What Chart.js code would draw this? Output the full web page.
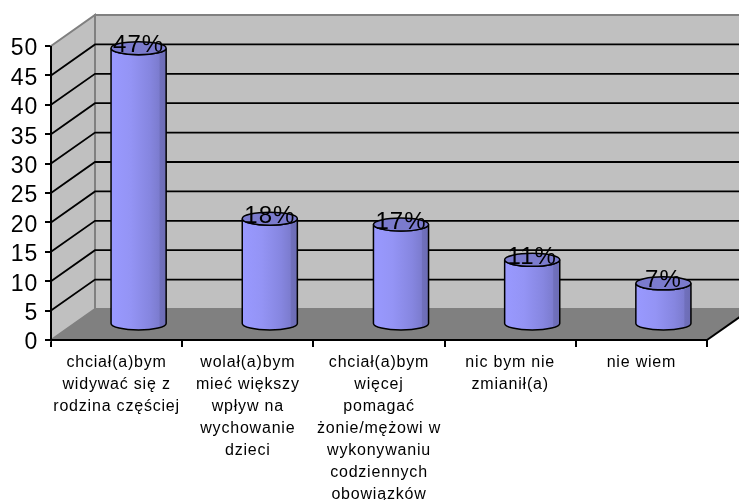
<!DOCTYPE html>
<html>
<head>
<meta charset="utf-8">
<style>
  html, body { margin: 0; padding: 0; background: #fff; }
  #wrap { width: 739px; height: 500px; }
</style>
<script src="https://cdn.jsdelivr.net/npm/chart.js@4"></script>
</head>
<body>
<div id="wrap"><canvas id="chart"></canvas></div>
<script>
const categories = [
    ['chciał(a)bym', 'widywać się z', 'rodzina częściej'],
    ['wolał(a)bym', 'mieć większy', 'wpływ na', 'wychowanie', 'dzieci'],
    ['chciał(a)bym', 'więcej', 'pomagać', 'żonie/mężowi w', 'wykonywaniu', 'codziennych', 'obowiązków'],
    ['nic bym nie', 'zmianił(a)'],
    ['nie wiem']
];
const values = [47, 18, 17, 11, 7];
const yMax = 50;
const yStep = 5;

// how far the back wall sits from the front of the chart
const depthX = 44;
const depthY = 31;

// walls and floor go behind the scales, built from the scale pixels
const wallsPlugin = {
    id: 'walls',
    beforeDraw(chart) {
        // the original text is stretched sideways, spacing gets close to that
        chart.ctx.letterSpacing = '0.8px';
    },
    beforeDatasetsDraw(chart) {
        const ctx = chart.ctx;
        const x = chart.scales.x;
        const y = chart.scales.y;
        const left = x.left, right = x.right;
        const top = y.getPixelForValue(yMax), bottom = y.getPixelForValue(0);

        ctx.save();
        ctx.lineJoin = 'miter';
        // back wall
        ctx.fillStyle = '#c0c0c0';
        ctx.strokeStyle = '#808080';
        ctx.lineWidth = 2;
        ctx.beginPath();
        ctx.rect(left + depthX, top - depthY, right - left, bottom - top);
        ctx.fill();
        ctx.stroke();
        // side wall
        ctx.beginPath();
        ctx.moveTo(left, top);
        ctx.lineTo(left + depthX, top - depthY);
        ctx.lineTo(left + depthX, bottom - depthY);
        ctx.lineTo(left, bottom);
        ctx.closePath();
        ctx.fill();
        ctx.stroke();
        // floor
        ctx.fillStyle = '#808080';
        ctx.beginPath();
        ctx.moveTo(left, bottom);
        ctx.lineTo(left + depthX, bottom - depthY);
        ctx.lineTo(right + depthX, bottom - depthY);
        ctx.lineTo(right, bottom);
        ctx.closePath();
        ctx.fill();
        // grid lines
        ctx.strokeStyle = '#000';
        ctx.lineWidth = 1.8;
        for (let v = yStep; v < yMax; v += yStep) {
            const py = y.getPixelForValue(v);
            ctx.beginPath();
            ctx.moveTo(left, py);
            ctx.lineTo(left + depthX, py - depthY);
            ctx.lineTo(right + depthX, py - depthY);
            ctx.stroke();
        }
        // front edge of the floor on the right
        ctx.lineWidth = 2;
        ctx.beginPath();
        ctx.moveTo(right, bottom);
        ctx.lineTo(right + depthX, bottom - depthY);
        ctx.stroke();
        ctx.restore();
    }
};

// bars are drawn as cylinders standing half way into the floor
const cylinderPlugin = {
    id: 'cylinders',
    beforeDatasetDraw(chart, args) {
        const ctx = chart.ctx;
        chart.getDatasetMeta(args.index).data.forEach((bar) => {
            const cx = bar.x + depthX / 2;
            const rx = bar.width / 2;
            const ry = 6.5;
            const topY = bar.y - depthY / 2;
            const baseY = bar.base - depthY / 2;

            const grad = ctx.createLinearGradient(cx - rx, 0, cx + rx, 0);
            grad.addColorStop(0, '#9999ff');
            grad.addColorStop(0.35, '#9494f5');
            grad.addColorStop(0.7, '#8686e0');
            grad.addColorStop(0.87, '#7c7ccf');
            grad.addColorStop(0.89, '#7070bc');
            grad.addColorStop(1, '#6c6cb4');

            ctx.save();
            ctx.lineWidth = 1.5;
            ctx.strokeStyle = '#000';
            ctx.fillStyle = grad;
            ctx.beginPath();
            ctx.moveTo(cx - rx, topY);
            ctx.lineTo(cx - rx, baseY);
            ctx.ellipse(cx, baseY, rx, ry, 0, Math.PI, 0, true);
            ctx.lineTo(cx + rx, topY);
            ctx.ellipse(cx, topY, rx, ry, 0, 0, Math.PI, false);
            ctx.closePath();
            ctx.fill();
            ctx.stroke();
            ctx.fillStyle = '#7b7bcd';
            ctx.beginPath();
            ctx.ellipse(cx, topY, rx, ry, 0, 0, Math.PI * 2);
            ctx.fill();
            ctx.stroke();
            ctx.restore();
        });
        return false;
    },
    afterDatasetsDraw(chart) {
        const ctx = chart.ctx;
        const x = chart.scales.x;
        const y = chart.scales.y;
        // front axis lines sit on top of the floor
        ctx.save();
        ctx.strokeStyle = '#000';
        ctx.lineWidth = 2;
        ctx.beginPath();
        ctx.moveTo(x.left, y.getPixelForValue(yMax));
        ctx.lineTo(x.left, y.getPixelForValue(0));
        ctx.lineTo(x.right, y.getPixelForValue(0));
        ctx.stroke();
        // value labels
        ctx.fillStyle = '#000';
        ctx.font = '24px "Liberation Sans"';
        ctx.letterSpacing = '1px';
        ctx.textAlign = 'center';
        ctx.textBaseline = 'alphabetic';
        chart.getDatasetMeta(0).data.forEach((bar, i) => {
            ctx.fillText(values[i] + '%', bar.x + depthX / 2, bar.y - depthY / 2 + 4);
        });
        ctx.restore();
    }
};

new Chart(document.getElementById('chart'), {
    type: 'bar',
    data: {
        labels: categories,
        datasets: [{
            data: values,
            backgroundColor: '#9999ff',
            barPercentage: 0.42,
            categoryPercentage: 1
        }]
    },
    options: {
        responsive: true,
        maintainAspectRatio: false,
        animation: false,
        layout: { padding: { top: 46, right: 32 } },
        plugins: { legend: { display: false }, tooltip: { enabled: false } },
        scales: {
            y: {
                min: 0,
                max: yMax,
                afterFit(scale) { scale.width = 51; },
                border: { display: false },
                grid: { drawOnChartArea: false, color: '#000', tickLength: 6, lineWidth: 2 },
                ticks: {
                    stepSize: yStep,
                    autoSkip: false,
                    padding: 7,
                    color: '#000',
                    // empty first line pushes the number a little below its tick
                    callback: (v) => ['', String(v)],
                    font: { family: '"Liberation Sans"', size: 23, lineHeight: '6px' }
                }
            },
            x: {
                afterFit(scale) { scale.height = 160; },
                border: { display: false },
                grid: { drawOnChartArea: false, color: '#000', tickLength: 7, lineWidth: 2 },
                ticks: {
                    maxRotation: 0,
                    autoSkip: false,
                    padding: 5,
                    color: '#000',
                    font: { family: '"Liberation Sans"', size: 16, lineHeight: 1.375 }
                }
            }
        }
    },
    plugins: [wallsPlugin, cylinderPlugin]
});
</script>
</body>
</html>
